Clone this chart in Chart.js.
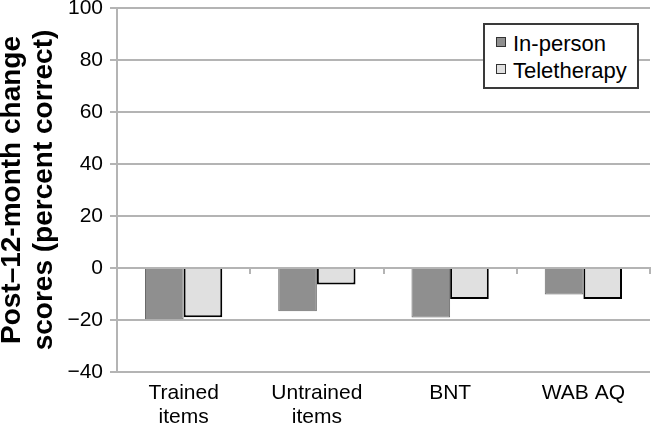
<!DOCTYPE html>
<html>
<head>
<meta charset="utf-8">
<script src="https://cdn.jsdelivr.net/npm/chart.js@4"></script>
<style>
  body { margin: 0; background: #fff; overflow: hidden; }
  #wrap { position: relative; width: 651px; height: 426px; }
  #legend {
    position: absolute; left: 483px; top: 23px;
    padding: 5px 0 3px 11px; box-sizing: content-box;
    border: 2px solid #3a3a3a; background: #fff;
    font: 22px 'Liberation Sans', Arial, sans-serif; color: #000;
    width: 141px;
  }
  #legend div { display: flex; align-items: center; height: 27px; white-space: nowrap; }
  #legend span.box { width: 8px; height: 8px; border: 1.5px solid #333; margin: -3px 7px 0 0; }
</style>
</head>
<body>
<div id="wrap">
  <canvas id="changeChart" width="651" height="426"></canvas>
  <div id="legend"></div>
</div>
<script>
// post-12-month change scores
const categories = [['Trained', 'items'], ['Untrained', 'items'], 'BNT', 'WAB AQ'];
const inPerson = [-19.7, -16.6, -19.0, -10.2];
const teletherapy = [-18.9, -6.3, -11.9, -11.9];
const yTicks = [-40, -20, 0, 20, 40, 60, 80, 100];

const FONT = "'Liberation Sans', Arial, sans-serif";
const GRID = '#b4b4b4';

const canvas = document.getElementById('changeChart');
const ctx = canvas.getContext('2d');

const chart = new Chart(ctx, {
  type: 'bar',
  data: {
    labels: categories,
    datasets: [{
      label: 'In-person',
      data: inPerson,
      backgroundColor: '#8f8f8f',
      borderColor: '#6a6a6a',
      borderWidth: 1,
      xAxisID: 'x'
    }, {
      label: 'Teletherapy',
      data: teletherapy,
      backgroundColor: '#e0e0e0',
      borderColor: '#000',
      borderWidth: 2,
      xAxisID: 'x'
    }]
  },
  options: {
    responsive: false,
    animation: false,
    layout: { padding: { top: 8, right: 1, left: 0, bottom: 0 } },
    datasets: { bar: { categoryPercentage: 0.58, barPercentage: 1 } },
    plugins: {
      legend: { display: false },
      tooltip: { enabled: false }
    },
    scales: {
      x: {
        type: 'category',
        position: 'bottom',
        grid: { display: false, drawTicks: false },
        border: { display: false },
        ticks: { color: '#000', padding: 9, font: { family: FONT, size: 21, lineHeight: 1.15 }, maxRotation: 0 },
        afterFit: s => { s.height = 54; s.paddingLeft = 0; s.paddingRight = 0; }
      },
      zero: {
        type: 'category',
        axis: 'x',
        labels: categories,
        position: { y: 0 },
        offset: true,
        grid: { drawOnChartArea: false, offset: true, tickLength: 5, color: GRID, lineWidth: 2 },
        border: { color: GRID, width: 2 },
        ticks: { display: false },
        afterFit: s => { s.height = 0; s.paddingLeft = 0; s.paddingRight = 0; }
      },
      y: {
        min: yTicks[0],
        max: yTicks[yTicks.length - 1],
        ticks: {
          stepSize: yTicks[1] - yTicks[0],
          padding: 7,
          color: '#000',
          font: { family: FONT, size: 21 },
          callback: v => v < 0 ? '\u2212' + Math.abs(v) : String(v)
        },
        grid: { color: GRID, lineWidth: 2, tickLength: 7 },
        border: { color: GRID, width: 2 },
        title: {
          display: true,
          text: ['Post\u201312-month change', 'scores (percent correct)'],
          color: '#000',
          font: { family: FONT, size: 28, weight: 'bold', lineHeight: 1.15 },
          padding: { top: -4, bottom: 0 }
        },
        afterFit: s => { s.width = 117; s.paddingTop = 0; s.paddingBottom = 0; }
      }
    }
  }
});

// legend box drawn as html, built from the chart datasets
const legendEl = document.getElementById('legend');
chart.data.datasets.forEach(ds => {
  const row = document.createElement('div');
  const box = document.createElement('span');
  box.className = 'box';
  box.style.background = ds.backgroundColor;
  row.appendChild(box);
  row.appendChild(document.createTextNode(ds.label));
  legendEl.appendChild(row);
});
</script>
</body>
</html>
